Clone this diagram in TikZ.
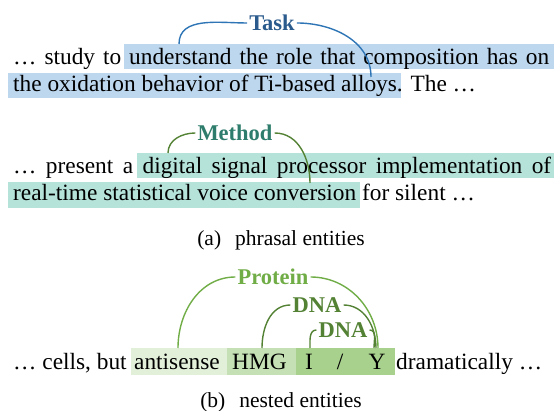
\documentclass[tikz,border=0pt]{standalone}
\usepackage{fontspec}
\setmainfont{Liberation Serif}
\definecolor{taskhl}{HTML}{BDD7EE}
\definecolor{tasklab}{HTML}{2B5B8C}
\definecolor{taskln}{HTML}{2E75B6}
\definecolor{methhl}{HTML}{B5E3DA}
\definecolor{methlab}{HTML}{2E7D6C}
\definecolor{methln}{HTML}{548235}
\definecolor{gone}{HTML}{E2F0D9}
\definecolor{gtwo}{HTML}{C5E0B4}
\definecolor{gthree}{HTML}{A9D18E}
\definecolor{prot}{HTML}{70AD47}
\definecolor{dnac}{HTML}{548235}
\tikzset{
  body/.style={anchor=base west, inner sep=0pt, font=\fontsize{23.35}{27}\selectfont},
  bodyc/.style={anchor=base, inner sep=0pt, font=\fontsize{23.35}{27}\selectfont},
  lab/.style={font=\fontsize{22.5}{27}\selectfont\bfseries, inner sep=2pt},
  capt/.style={anchor=base, inner sep=0pt, font=\fontsize{21.5}{26}\selectfont},
  conn/.style={line width=1.4pt}
}
\begin{document}
\begin{tikzpicture}[x=1pt,y=-1pt]
\useasboundingbox (0,0) rectangle (554,411);
% ---------- Task ----------
\fill[taskhl] (124,44) rectangle (554,69);
\fill[taskhl] (8,73) rectangle (401,98);
\node[body] (t1) at (13,65) {\makebox[536pt][s]{… study to understand the role that composition has on}};
\node[body] (t2) at (13,92) {the oxidation behavior of Ti-based alloys. The …};
\node[lab, text=tasklab] (task) at (272,23) {Task};
\coordinate (tl) at (179,44);
\coordinate (tr) at (371,77);
\draw[conn, taskln] (task.west) to[out=180,in=90] (tl);
\draw[conn, taskln] (task.east) to[out=0,in=90] (tr);
% ---------- Method ----------
\fill[methhl] (137,153) rectangle (554,178);
\fill[methhl] (8,182) rectangle (360,208);
\node[body] (m1) at (13,174) {\makebox[538pt][s]{… present a digital signal processor implementation of}};
\node[body] (m2) at (13,201) {real-time statistical voice conversion for silent …};
\node[lab, text=methlab] (meth) at (235,133) {Method};
\coordinate (ml) at (168,153);
\coordinate (mr) at (310,183);
\draw[conn, methln] (meth.west) to[out=180,in=90] (ml);
\draw[conn, methln] (meth.east) to[out=0,in=90] (mr);
\node[capt] (capa) at (281,246) {(a)\hspace{0.4em} phrasal entities};
% ---------- Nested ----------
\fill[gone] (131,348) rectangle (227,375);
\fill[gtwo] (227,348) rectangle (296,375);
\fill[gthree] (296,348) rectangle (395,375);
\node[body] (c1) at (13,370) {… cells, but};
\node[body] (w1) at (134,370) {antisense};
\node[body] (w2) at (232,370) {HMG};
\node[bodyc] (w3) at (309,370) {I};
\node[bodyc] (w4) at (340,370) {/};
\node[bodyc] (w5) at (377,370) {Y};
\node[body] (c2) at (396,370) {dramatically …};
\node[lab, text=prot] (protein) at (273,277) {Protein};
\node[lab, text=dnac] (dnaa) at (317,305) {DNA};
\node[lab, text=dnac] (dnab) at (343,330) {DNA};
\coordinate (pa) at (178,348);
\coordinate (ph) at (262,348);
\coordinate (pi) at (310,348);
\coordinate (pya) at (378,348);
\coordinate (pyb) at (376,348);
\coordinate (pyc) at (374,348);
\draw[conn, prot] (protein.west) to[out=180,in=90] (pa);
\draw[conn, prot] (protein.east) to[out=0,in=90] (pya);
\draw[conn, dnac] (dnaa.west) to[out=180,in=90] (ph);
\draw[conn, dnac] (dnaa.east) to[out=0,in=90] (pyb);
\draw[conn, dnac] (dnab.west) to[out=180,in=90] (pi);
\draw[conn, dnac] (dnab.east) to[out=0,in=90] (pyc);
\node[capt] (capb) at (281,407) {(b)\hspace{0.4em} nested entities};
\end{tikzpicture}
\end{document}
